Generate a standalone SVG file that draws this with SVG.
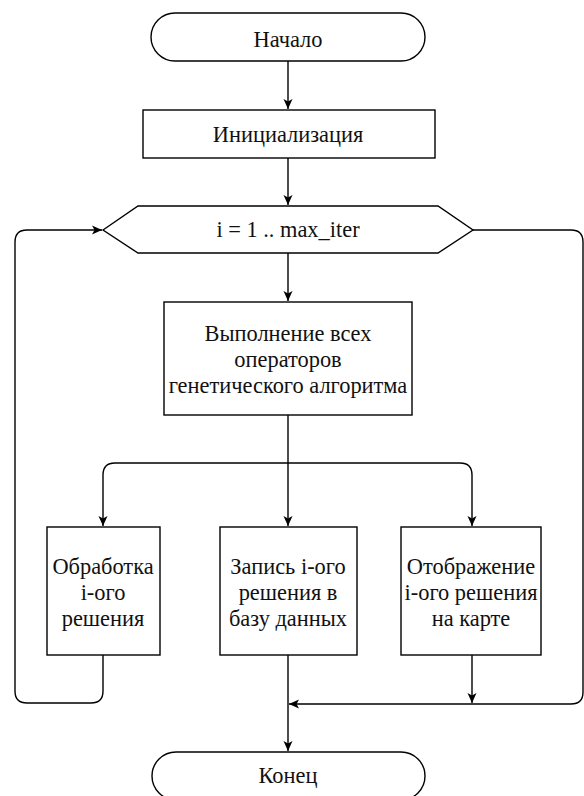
<svg xmlns="http://www.w3.org/2000/svg" width="584" height="796" viewBox="0 0 584 796">
<style>
.s{fill:#fff;stroke:#000;stroke-width:1.4}
.c{fill:none;stroke:#000;stroke-width:1.4}
</style>
<defs>
<marker id="a" markerUnits="userSpaceOnUse" markerWidth="12" markerHeight="12" viewBox="0 0 12 12" refX="11" refY="6" orient="auto">
<path d="M1,1.5 L11,6 L1,10.5 L3.5,6 z" fill="#000"/>
</marker>
</defs>
<rect width="584" height="796" fill="#fff"/>
<g id="connectors">
<path class="c" d="M288,61 V109" marker-end="url(#a)"/>
<path class="c" d="M288,158 V205" marker-end="url(#a)"/>
<path class="c" d="M288,253 V301" marker-end="url(#a)"/>
<path class="c" d="M288,415 V526" marker-end="url(#a)"/>
<path class="c" d="M288,463 H115 Q103,463 103,475 V526" marker-end="url(#a)"/>
<path class="c" d="M288,463 H460 Q472,463 472,475 V526" marker-end="url(#a)"/>
<path class="c" d="M103,655 V691 Q103,703 91,703 H27 Q15,703 15,691 V242 Q15,230 27,230 H102" marker-end="url(#a)"/>
<path class="c" d="M288,655 V751" marker-end="url(#a)"/>
<path class="c" d="M472,655 V703" marker-end="url(#a)"/>
<path class="c" d="M473,230 H571 Q583,230 583,242 V692 Q583,704 571,704 H289" marker-end="url(#a)"/>
</g>
<g font-family="Liberation Serif, serif" font-size="22.4" fill="#111" text-anchor="middle">
<g id="start">
<rect class="s" x="151" y="13" width="274" height="48" rx="24" ry="24"/>
<text x="288" y="47">Начало</text>
</g>
<g id="init">
<rect class="s" x="143" y="110" width="292" height="48"/>
<text x="288" y="142">Инициализация</text>
</g>
<g id="loop">
<polygon class="s" points="103,230 138,206 438,206 473,230 438,253 138,253"/>
<text x="288" y="237">i = 1 .. max_iter</text>
</g>
<g id="ga">
<rect class="s" x="164" y="302" width="248" height="113"/>
<text x="288" y="341">Выполнение всех</text>
<text x="288" y="367">операторов</text>
<text x="288" y="393">генетического алгоритма</text>
</g>
<g id="process">
<rect class="s" x="47" y="527" width="113" height="128"/>
<text x="103" y="574">Обработка</text>
<text x="103" y="600">i-ого</text>
<text x="103" y="626">решения</text>
</g>
<g id="db">
<rect class="s" x="220" y="527" width="137" height="128"/>
<text x="288" y="574">Запись i-ого</text>
<text x="288" y="600">решения в</text>
<text x="288" y="626">базу данных</text>
</g>
<g id="map">
<rect class="s" x="401" y="527" width="140" height="128"/>
<text x="471" y="574">Отображение</text>
<text x="471" y="600">i-ого решения</text>
<text x="471" y="626">на карте</text>
</g>
<g id="end">
<rect class="s" x="152" y="752" width="273" height="48" rx="24" ry="24"/>
<text x="288" y="783">Конец</text>
</g>
</g>
</svg>
